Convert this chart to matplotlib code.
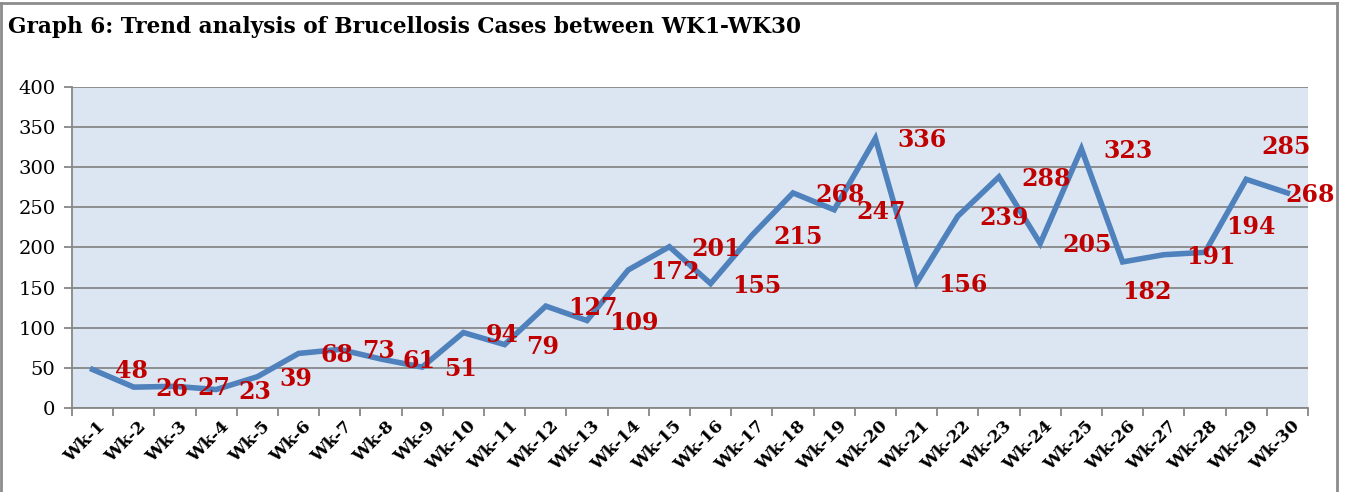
import matplotlib
matplotlib.use("Agg")
import matplotlib.pyplot as plt
from matplotlib.lines import Line2D
import numpy as np

# ---- data ----
weeks = [f"Wk-{i}" for i in range(1, 31)]
cases = [48, 26, 27, 23, 39, 68, 73, 61, 51, 94, 79, 127, 109, 172, 201,
         155, 215, 268, 247, 336, 156, 239, 288, 205, 323, 182, 191, 194, 285, 268]
title = "Graph 6: Trend analysis of Brucellosis Cases between WK1-WK30"
yticks = [0, 50, 100, 150, 200, 250, 300, 350, 400]

# ---- style ----
DPI = 100
W, H = 1345, 492
serif = ["DejaVu Serif"]
grid_col = "#878787"
line_col = "#4F81BD"
label_col = "#C00000"
bg_col = "#DCE6F2"

fig = plt.figure(figsize=(W / DPI, H / DPI), dpi=DPI)
ax = fig.add_axes([72 / W, (H - 408) / H, (1308 - 72) / W, (408 - 87) / H])
ax.set_facecolor(bg_col)

x = np.arange(len(weeks))
ax.plot(x, cases, color=line_col, lw=4.0, solid_joinstyle="miter", zorder=3)

ax.set_xlim(-0.5, len(weeks) - 0.5)
ax.set_ylim(0, 400)
ax.set_yticks(yticks)
ax.set_yticklabels([str(v) for v in yticks], fontsize=14, family=serif)
ax.yaxis.grid(True, color=grid_col, lw=1.3, zorder=1)
ax.set_axisbelow(True)

# x ticks: marks at boundaries, labels at centres
ax.set_xticks(np.arange(-0.5, len(weeks), 1.0))
ax.set_xticklabels([])
ax.set_xticks(x + 0.1, minor=True)
ax.set_xticklabels(weeks, minor=True, rotation=45, ha="right",
                   rotation_mode="anchor", fontsize=12.5, fontweight="bold",
                   family=serif)
ax.tick_params(axis="x", which="minor", length=0, pad=7)
ax.tick_params(axis="x", which="major", length=6, color=grid_col, width=1.3)
ax.tick_params(axis="y", length=6, color=grid_col, width=1.3, pad=6)

for s in ["top", "right"]:
    ax.spines[s].set_visible(False)
for s in ["left", "bottom"]:
    ax.spines[s].set_color(grid_col)
    ax.spines[s].set_linewidth(1.3)

# data labels: right of point, a few moved by hand (pixel nudges)
px2pt = 72 / DPI
nudges = {25: (-22, -28), 27: (-1, 27), 28: (-7, 34), 29: (-24, 0)}
for i, v in enumerate(cases):
    dx, dy = nudges.get(i, (0, 0))
    ax.annotate(str(v), (i, v), xytext=((22 + dx) * px2pt, (-2 + dy) * px2pt),
                textcoords="offset points", ha="left", va="center",
                color=label_col, fontsize=17, fontweight="bold",
                family=serif, annotation_clip=False, zorder=4)

fig.text(8 / W, 1 - 33 / H, title, fontsize=15.6, fontweight="bold",
         family=serif, ha="left", va="baseline")

# outer frame
fc = "#8C8C8C"
fig.add_artist(Line2D([0.5 / W, 0.5 / W], [0, 1 - 3 / H], color=fc, lw=2,
                      transform=fig.transFigure))
fig.add_artist(Line2D([0, 1337 / W], [1 - 3 / H, 1 - 3 / H], color=fc, lw=2,
                      transform=fig.transFigure))
fig.add_artist(Line2D([1337 / W, 1337 / W], [0, 1 - 3 / H], color=fc, lw=2,
                      transform=fig.transFigure))

fig.savefig("out.png", dpi=DPI)
